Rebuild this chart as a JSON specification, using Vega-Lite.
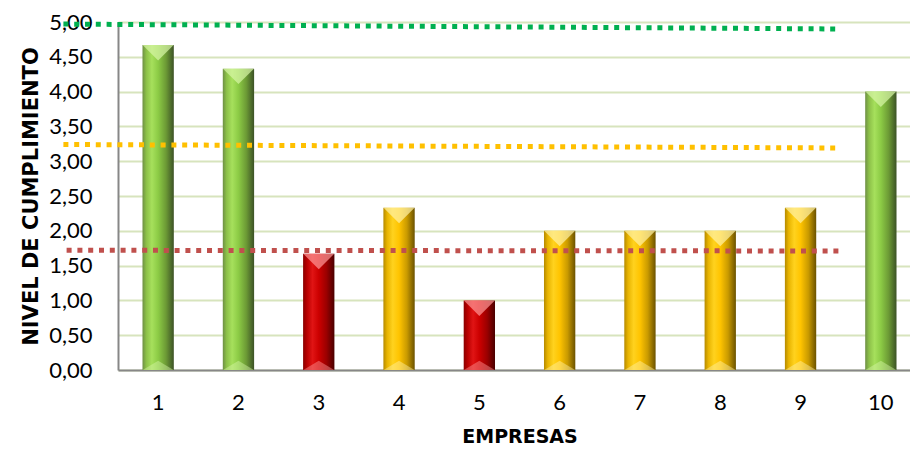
{
  "$schema": "https://vega.github.io/schema/vega-lite/v6.json",
  "width": 792,
  "height": 348,
  "autosize": {"type": "none"},
  "padding": {"left": 118, "top": 22, "right": 0, "bottom": 79},
  "background": "white",
  "config": {
    "locale": {"number": {"decimal": ",", "thousands": ".", "grouping": [3], "currency": ["", " €"]}},
    "view": {"stroke": null},
    "font": "Lato",
    "axis": {"labelFont": "Lato", "titleFont": "DejaVu Sans", "labelColor": "#000", "titleColor": "#000"}
  },
  "datasets": {
    "barras": [
      {"empresa": 1, "valor": 4.67, "nivel": "alto"},
      {"empresa": 2, "valor": 4.33, "nivel": "alto"},
      {"empresa": 3, "valor": 1.67, "nivel": "bajo"},
      {"empresa": 4, "valor": 2.33, "nivel": "medio"},
      {"empresa": 5, "valor": 1.0, "nivel": "bajo"},
      {"empresa": 6, "valor": 2.0, "nivel": "medio"},
      {"empresa": 7, "valor": 2.0, "nivel": "medio"},
      {"empresa": 8, "valor": 2.0, "nivel": "medio"},
      {"empresa": 9, "valor": 2.33, "nivel": "medio"},
      {"empresa": 10, "valor": 4.0, "nivel": "alto"}
    ],
    "lineas": [
      {"meta": "alto", "pos": -0.68, "valor": 4.97},
      {"meta": "alto", "pos": 8.95, "valor": 4.90},
      {"meta": "medio", "pos": -0.68, "valor": 3.24},
      {"meta": "medio", "pos": 9.0, "valor": 3.19},
      {"meta": "bajo", "pos": -0.64, "valor": 1.72},
      {"meta": "bajo", "pos": 9.03, "valor": 1.71}
    ]
  },
  "encoding": {
    "y": {
      "field": "valor", "type": "quantitative",
      "scale": {"domain": [0, 5], "nice": false},
      "axis": {
        "title": "NIVEL DE CUMPLIMIENTO", "titleFontSize": 21, "titleFontWeight": "bold", "titlePadding": 7,
        "labelFontSize": 22, "labelPadding": 26, "ticks": false, "format": ".2f", "labelOverlap": false,
        "values": [0, 0.5, 1, 1.5, 2, 2.5, 3, 3.5, 4, 4.5, 5], "tickCount": 20,
        "domainColor": "#878787", "domainWidth": 2,
        "gridColor": "#d7e4bd", "gridWidth": 2
      }
    }
  },
  "layer": [
    {
      "data": {"name": "barras"},
      "encoding": {
        "x": {
          "field": "empresa", "type": "ordinal",
          "scale": {"range": [0, 803], "paddingInner": 0.61, "paddingOuter": 0.305},
          "axis": {
            "title": "EMPRESAS", "titleFontSize": 19, "titleFontWeight": "bold", "titlePadding": 14,
            "labelFontSize": 22, "labelAngle": 0, "labelPadding": 22, "ticks": false,
            "domainColor": "#878787", "domainWidth": 2, "grid": false
          }
        }
      },
      "layer": [
        {
          "transform": [{"filter": "datum.nivel === 'alto'"}],
          "mark": {"type": "bar", "color": {"gradient": "linear", "x1": 0, "y1": 0, "x2": 1, "y2": 0,
            "stops": [
              {"offset": 0, "color": "#6e8f45"},
              {"offset": 0.12, "color": "#8cc048"},
              {"offset": 0.3, "color": "#a6e05c"},
              {"offset": 0.5, "color": "#8ccb45"},
              {"offset": 0.75, "color": "#6c9a35"},
              {"offset": 1, "color": "#3c5226"}
            ]}}
        },
        {
          "transform": [{"filter": "datum.nivel === 'medio'"}],
          "mark": {"type": "bar", "color": {"gradient": "linear", "x1": 0, "y1": 0, "x2": 1, "y2": 0,
            "stops": [
              {"offset": 0, "color": "#b58a00"},
              {"offset": 0.12, "color": "#e8b400"},
              {"offset": 0.3, "color": "#ffd21e"},
              {"offset": 0.5, "color": "#ffc400"},
              {"offset": 0.75, "color": "#c99a00"},
              {"offset": 1, "color": "#6b5200"}
            ]}}
        },
        {
          "transform": [{"filter": "datum.nivel === 'bajo'"}],
          "mark": {"type": "bar", "color": {"gradient": "linear", "x1": 0, "y1": 0, "x2": 1, "y2": 0,
            "stops": [
              {"offset": 0, "color": "#8a0000"},
              {"offset": 0.12, "color": "#b80000"},
              {"offset": 0.3, "color": "#e01414"},
              {"offset": 0.5, "color": "#cc0000"},
              {"offset": 0.75, "color": "#9a0000"},
              {"offset": 1, "color": "#4a0000"}
            ]}}
        },
        {
          "mark": {"type": "point", "filled": true, "shape": "M-1,0L1,0L0,1Z", "size": 960, "opacity": 0.7, "strokeWidth": 0},
          "encoding": {
            "color": {"field": "nivel", "type": "nominal", "legend": null,
              "scale": {"domain": ["alto", "medio", "bajo"], "range": ["#d8f7a8", "#fff2a8", "#ff9a9a"]}}
          }
        },
        {
          "mark": {"type": "point", "filled": true, "shape": "M-1,0L1,0L0,-0.6Z", "size": 960, "opacity": 0.45, "strokeWidth": 0},
          "encoding": {
            "y": {"datum": 0},
            "color": {"field": "nivel", "type": "nominal", "legend": null,
              "scale": {"domain": ["alto", "medio", "bajo"], "range": ["#d8f7a8", "#fff2a8", "#ff9a9a"]}}
          }
        }
      ]
    },
    {
      "data": {"name": "lineas"},
      "mark": {"type": "line", "strokeWidth": 5, "strokeDash": [5, 5.8], "strokeCap": "butt", "clip": false},
      "encoding": {
        "x": {"field": "pos", "type": "quantitative", "scale": {"domain": [0, 10], "range": [0, 803], "nice": false, "zero": false}, "axis": null},
        "detail": {"field": "meta"},
        "color": {"field": "meta", "type": "nominal", "legend": null,
          "scale": {"domain": ["alto", "medio", "bajo"], "range": ["#00b050", "#ffc000", "#c0504d"]}}
      }
    }
  ],
  "resolve": {"scale": {"x": "independent", "color": "independent"}}
}
